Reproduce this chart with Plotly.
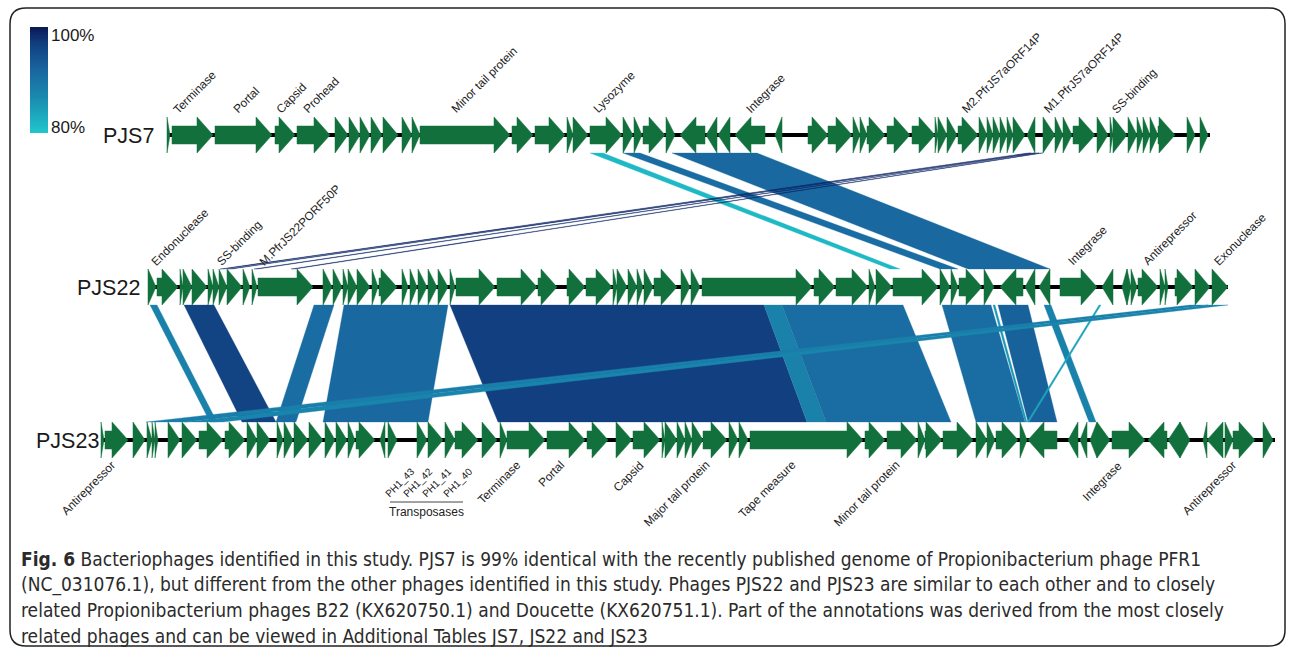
import numpy as np
import plotly.graph_objects as go
from plotly.colors import sample_colorscale

W, H = 1292, 649

# ---------------------------------------------------------------
# Gene maps: (start, end, strand) in map units along the x axis
# strand +1 = forward, -1 = reverse
# ---------------------------------------------------------------
pjs7_span = (168, 1210)
pjs7_genes = [
    (167, 170, 1), (172, 213, 1), (215, 272, 1), (275, 295, 1), (297, 330, 1),
    (335, 348, 1), (349, 360, 1), (360, 370, 1), (371, 382, 1), (383, 398, 1),
    (402, 412, 1), (412, 420, 1), (420, 510, 1), (512, 533, 1), (535, 565, 1),
    (567, 573, 1), (573, 588, 1), (590, 622, 1), (623, 633, 1), (634, 642, 1),
    (643, 665, 1), (666, 675, 1), (680, 705, -1), (706, 717, -1), (718, 730, -1),
    (735, 765, -1), (775, 782, -1), (808, 828, 1), (828, 852, 1), (853, 860, 1),
    (860, 867, 1), (867, 885, 1), (887, 910, 1), (912, 935, 1), (935, 938, 1),
    (938, 947, 1), (947, 957, 1), (958, 978, 1), (979, 987, 1), (987, 993, 1),
    (993, 1000, 1), (1000, 1007, 1), (1007, 1013, 1), (1013, 1025, 1),
    (1027, 1035, -1), (1043, 1055, 1), (1055, 1063, 1), (1063, 1072, 1),
    (1073, 1095, 1), (1097, 1108, 1), (1110, 1113, 1), (1113, 1127, 1),
    (1128, 1137, 1), (1137, 1143, 1), (1143, 1150, 1), (1150, 1158, 1),
    (1158, 1175, 1), (1187, 1195, 1), (1200, 1208, 1),
]

pjs22_span = (148, 1228)
pjs22_genes = [
    (148, 156, 1), (157, 178, 1), (180, 183, 1), (183, 192, 1), (192, 207, 1),
    (208, 213, 1), (213, 219, 1), (219, 227, 1), (227, 242, 1), (243, 250, 1),
    (252, 257, 1), (258, 313, 1), (323, 332, 1), (333, 342, 1), (343, 348, 1),
    (348, 357, 1), (357, 370, 1), (372, 378, 1), (379, 397, 1), (402, 408, 1),
    (410, 417, 1), (418, 427, 1), (428, 437, 1), (438, 448, 1), (450, 455, 1),
    (456, 495, 1), (497, 537, 1), (538, 557, 1), (567, 585, 1), (586, 612, 1),
    (613, 617, 1), (617, 627, 1), (628, 637, 1), (637, 643, 1), (644, 653, 1),
    (654, 677, 1), (681, 690, 1), (691, 700, 1), (702, 812, 1), (814, 835, 1),
    (836, 868, 1), (869, 875, 1), (876, 892, 1), (893, 938, 1), (940, 950, 1),
    (951, 958, 1), (959, 982, 1), (984, 994, 1), (1000, 1023, -1),
    (1025, 1035, -1), (1039, 1050, -1), (1060, 1097, 1), (1102, 1113, -1),
    (1122, 1127, -1), (1127, 1131, 1), (1131, 1137, 1), (1138, 1158, 1),
    (1160, 1165, 1), (1165, 1168, 1), (1175, 1193, 1), (1195, 1210, 1),
    (1212, 1228, 1),
]

pjs23_span = (103, 1275)
pjs23_genes = [
    (101, 104, 1), (105, 128, 1), (133, 145, 1), (147, 152, 1), (152, 155, 1),
    (155, 158, 1), (168, 180, 1), (182, 197, 1), (199, 223, 1), (225, 245, 1),
    (247, 257, 1), (257, 270, 1), (277, 283, 1), (284, 293, 1), (294, 308, 1),
    (309, 323, 1), (325, 335, 1), (336, 347, 1), (348, 355, 1), (356, 375, 1),
    (380, 385, -1), (388, 397, 1), (417, 427, 1), (428, 443, 1), (445, 455, 1),
    (455, 478, 1), (482, 497, 1), (500, 507, 1), (507, 545, 1), (547, 585, 1),
    (587, 608, 1), (616, 632, 1), (633, 660, 1), (662, 665, 1), (665, 677, 1),
    (677, 685, 1), (685, 692, 1), (692, 703, 1), (703, 727, 1), (729, 738, 1),
    (739, 748, 1), (750, 863, 1), (865, 885, 1), (887, 917, 1), (918, 925, 1),
    (925, 942, 1), (943, 973, 1), (976, 987, 1), (987, 995, 1), (996, 1018, 1),
    (1020, 1027, 1), (1028, 1057, -1), (1068, 1078, -1), (1080, 1087, -1),
    (1090, 1097, -1), (1097, 1110, 1), (1112, 1145, 1), (1148, 1167, -1),
    (1168, 1180, -1), (1180, 1190, 1), (1203, 1207, -1), (1207, 1223, -1),
    (1225, 1233, 1), (1233, 1255, 1), (1263, 1273, 1),
]

# Gene annotations: (label, map position)
pjs7_labels = [
    ("Terminase", 172), ("Portal", 232), ("Capsid", 275), ("Prohead", 302),
    ("Minor tail protein", 450), ("Lysozyme", 592), ("Integrase", 745),
    ("M2.PfrJS7aORF14P", 960), ("M1.PfrJS7aORF14P", 1042), ("SS-binding", 1110),
]
pjs22_labels = [
    ("Endonuclease", 150), ("SS-binding", 215), ("M.PfrJS22PORF50P", 258),
    ("Integrase", 1067), ("Antirepressor", 1142), ("Exonuclease", 1213),
]
pjs23_labels = [
    ("Antirepressor", 116), ("Terminase", 522), ("Portal", 565), ("Capsid", 645),
    ("Major tail protein", 710), ("Tape measure", 797), ("Minor tail protein", 900),
    ("Integrase", 1123), ("Antirepressor", 1237),
]
transposase_labels = [("PH1_43", 415), ("PH1_42", 433), ("PH1_41", 452), ("PH1_40", 473)]
transposase_group = ("Transposases", 390, 463)

# Similarity links: (upper start, upper end, lower start, lower end, identity %)
links_7_22 = [
    (590, 603, 890, 900, 81.5),
    (623, 640, 940, 958, 91.0),
    (672, 757, 968, 1050, 91.5),
    (1028, 1031, 220, 224, 99.0),
    (1032, 1035, 228, 232, 99.0),
    (1036, 1039, 254, 258, 99.0),
    (1040, 1043, 291, 295, 99.0),
]
links_22_23 = [
    (150, 157, 210, 217, 88.0),
    (184, 214, 242, 276, 96.5),
    (314, 334, 276, 296, 91.0),
    (344, 448, 323, 428, 91.5),
    (450, 764, 498, 807, 97.0),
    (764, 782, 807, 826, 88.0),
    (782, 903, 826, 951, 91.0),
    (942, 991, 976, 1025, 91.0),
    (998, 1028, 1028, 1057, 92.5),
    (1044, 1051, 1089, 1096, 88.0),
    (993, 995, 1025, 1027, 85.0),
    (1099, 1101, 1027, 1029, 84.0),
    (1190, 1208, 146, 185, 88.5),
    (1208, 1228, 185, 223, 87.5),
]

identity_min, identity_max = 80, 100
identity_scale = [
    [0.0, "#20c6cd"], [0.35, "#1a88ae"], [0.6, "#19669f"],
    [0.85, "#113f80"], [1.0, "#0b1b57"],
]

caption_lines = [
    "<b>Fig. 6</b> Bacteriophages identified in this study. PJS7 is 99% identical with the recently published genome of Propionibacterium phage PFR1",
    "(NC_031076.1), but different from the other phages identified in this study. Phages PJS22 and PJS23 are similar to each other and to closely",
    "related Propionibacterium phages B22 (KX620750.1) and Doucette (KX620751.1). Part of the annotations was derived from the most closely",
    "related phages and can be viewed in Additional Tables JS7, JS22 and JS23",
]

# ---------------------------------------------------------------
# Geometry / style
# ---------------------------------------------------------------
ROW_Y = {"PJS7": 135, "PJS22": 287, "PJS23": 440}
NAME_GAP = {"PJS7": 12, "PJS22": 6, "PJS23": 2}
BODY, HEAD, HEAD_LEN = 9, 18, 16
GENE_GREEN = "#12703c"
SANS = "Liberation Sans, Arial, sans-serif"
LABEL_FONT = dict(family=SANS, size=11.8, color="#222222")
SMALL_FONT = dict(family=SANS, size=10, color="#222222")


def identity_color(v):
    t = (v - identity_min) / (identity_max - identity_min)
    return sample_colorscale(identity_scale, [min(max(t, 0), 1)])[0]


def gene_path(genes, y):
    xs, ys = [], []
    for s, e, strand in genes:
        hl = min(HEAD_LEN, e - s)
        if strand > 0:
            b = e - hl
            px = [s, b, b, e, b, b, s, s]
        else:
            b = s + hl
            px = [e, b, b, s, b, b, e, e]
        py = [y - BODY, y - BODY, y - HEAD, y, y + HEAD, y + BODY, y + BODY, y - BODY]
        xs += px + [None]
        ys += py + [None]
    return xs, ys


def rotated_label(text, x, y, above, font):
    # slanted label: glyph run starts (above the track) or ends (below it) near x
    if above:
        return dict(x=x - 1.5, y=y, text=text, textangle=-45, xanchor="left",
                    yanchor="bottom", showarrow=False, font=font,
                    borderpad=0, borderwidth=0)
    return dict(x=x + 2, y=y, text=text, textangle=-45, xanchor="right",
                yanchor="top", showarrow=False, font=font,
                borderpad=0, borderwidth=0)


fig = go.Figure()
annotations = []

# identity key
n_key = 60
key_vals = np.linspace(identity_max, identity_min, n_key).reshape(-1, 1)
fig.add_trace(go.Heatmap(
    z=key_vals, x=[30, 48], y=np.linspace(27, 133, n_key + 1),
    zmin=identity_min, zmax=identity_max, colorscale=identity_scale,
    showscale=False, zsmooth="best", hoverinfo="skip",
))
for txt, yy in [(f"{identity_max}%", 35), (f"{identity_min}%", 127)]:
    annotations.append(dict(
        x=49, y=yy, text=txt, showarrow=False, xanchor="left", yanchor="middle",
        font=dict(family=SANS, size=17, color="#1a1a1a"),
    ))


# similarity links
def add_links(links, y_top, y_bot):
    for us, ue, ls, le, ident in links:
        c = identity_color(ident)
        fig.add_trace(go.Scatter(
            x=[us, ue, le, ls, us], y=[y_top, y_top, y_bot, y_bot, y_top],
            mode="lines", fill="toself", fillcolor=c,
            line=dict(width=0.3, color=c),
            hoverinfo="skip", showlegend=False,
        ))


add_links(links_7_22, ROW_Y["PJS7"] + HEAD, ROW_Y["PJS22"] - HEAD)
add_links(links_22_23, ROW_Y["PJS22"] + HEAD, ROW_Y["PJS23"] - HEAD)

# genome backbones, genes and names
for name, span, genes in [("PJS7", pjs7_span, pjs7_genes),
                          ("PJS22", pjs22_span, pjs22_genes),
                          ("PJS23", pjs23_span, pjs23_genes)]:
    y = ROW_Y[name]
    fig.add_trace(go.Scatter(
        x=list(span), y=[y, y], mode="lines",
        line=dict(color="#000000", width=4), hoverinfo="skip", showlegend=False,
    ))
    gx, gy = gene_path(genes, y)
    fig.add_trace(go.Scatter(
        x=gx, y=gy, mode="lines", fill="toself", fillcolor=GENE_GREEN,
        line=dict(color=GENE_GREEN, width=0.5), hoverinfo="skip", showlegend=False,
    ))
    annotations.append(dict(
        x=span[0] - NAME_GAP[name], y=y + 1, text=name, showarrow=False,
        xanchor="right", yanchor="middle",
        font=dict(family=SANS, size=21.5, color="#1a1a1a"),
    ))

for row, labels in [("PJS7", pjs7_labels), ("PJS22", pjs22_labels)]:
    for text, pos in labels:
        annotations.append(rotated_label(text, pos, ROW_Y[row] - HEAD - 1, True, LABEL_FONT))
for text, pos in pjs23_labels:
    annotations.append(rotated_label(text, pos, ROW_Y["PJS23"] + HEAD, False, LABEL_FONT))
for text, pos in transposase_labels:
    annotations.append(rotated_label(text, pos, ROW_Y["PJS23"] + HEAD + 8, False, SMALL_FONT))

tp_text, tp_x0, tp_x1 = transposase_group
annotations.append(dict(
    x=(tp_x0 + tp_x1) / 2, y=503, text=tp_text, showarrow=False,
    xanchor="center", yanchor="top", font=dict(family=SANS, size=12, color="#222222"),
))

# caption
for i, line in enumerate(caption_lines):
    annotations.append(dict(
        x=19, y=559 + i * 25.7, text=line, showarrow=False, xanchor="left",
        yanchor="middle",
        font=dict(family="Liberation Sans Narrow, DejaVu Sans Condensed, Roboto, sans-serif",
                  size=19, color="#2b2b2b"),
    ))

shapes = [
    dict(type="line", x0=tp_x0, x1=tp_x1, y0=502, y1=502,
         line=dict(color="#444444", width=1)),
    dict(type="path",
         path="M 26,8 L 1269,8 Q 1285,8 1285,24 L 1285,630 Q 1285,646 1269,646 "
              "L 26,646 Q 10,646 10,630 L 10,24 Q 10,8 26,8 Z",
         line=dict(color="#222222", width=1.5)),
]

fig.update_layout(
    width=W, height=H, margin=dict(l=0, r=0, t=0, b=0),
    paper_bgcolor="white", plot_bgcolor="white", showlegend=False,
    xaxis=dict(range=[0, W], visible=False, fixedrange=True),
    yaxis=dict(range=[H, 0], visible=False, fixedrange=True),
    annotations=annotations, shapes=shapes,
)

fig.write_html("out.html")
